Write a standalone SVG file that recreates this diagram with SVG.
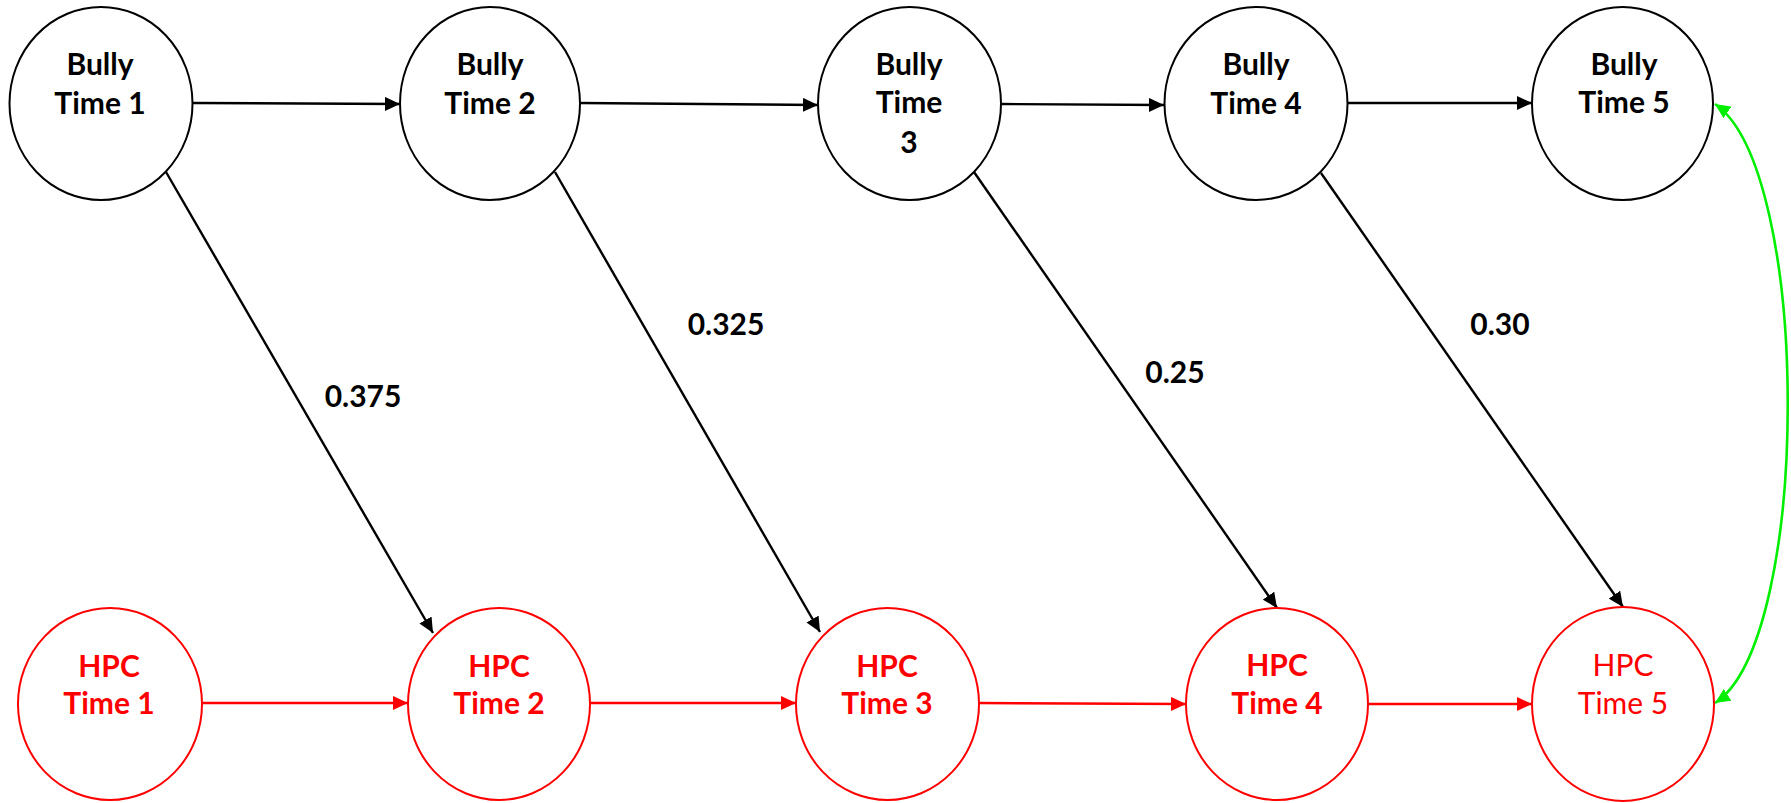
<svg xmlns="http://www.w3.org/2000/svg" width="1791" height="803" viewBox="0 0 1791 803">
<style>
.bn{fill:#fff;stroke:#000;stroke-width:2}
.hn{fill:#fff;stroke:#ff0000;stroke-width:2}
.bt{font-family:Lato,"Liberation Sans",sans-serif;font-weight:bold;font-size:30px;fill:#000;text-anchor:middle}
.ht{font-family:Lato,"Liberation Sans",sans-serif;font-weight:bold;font-size:30px;fill:#ff0000;text-anchor:middle}
.htr{font-family:Lato,"Liberation Sans",sans-serif;font-weight:normal;font-size:30px;fill:#ff0000;text-anchor:middle}
.lbl{font-family:Lato,"Liberation Sans",sans-serif;font-weight:bold;font-size:30px;fill:#000;text-anchor:middle}
.bk{stroke:#000;stroke-width:2.4;fill:none;marker-end:url(#ab)}
.rd{stroke:#ff0000;stroke-width:2.4;fill:none;marker-end:url(#ar)}
.gr{stroke:#00ee00;stroke-width:2.6;fill:none;marker-start:url(#ag);marker-end:url(#ag)}
</style>
<defs>
<marker id="ab" markerUnits="userSpaceOnUse" markerWidth="16" markerHeight="14" refX="15" refY="7" orient="auto"><path d="M0,0 L15,7 L0,14 z" fill="#000"/></marker>
<marker id="ar" markerUnits="userSpaceOnUse" markerWidth="16" markerHeight="14" refX="15" refY="7" orient="auto"><path d="M0,0 L15,7 L0,14 z" fill="#ff0000"/></marker>
<marker id="ag" markerUnits="userSpaceOnUse" markerWidth="16" markerHeight="14" refX="15" refY="7" orient="auto-start-reverse"><path d="M0,0 L15,7 L0,14 z" fill="#00ee00"/></marker>
</defs>
<rect width="1791" height="803" fill="#fff"/>
<g id="connectors">
<line class="bk" x1="193" y1="103" x2="400" y2="104"/>
<line class="bk" x1="580" y1="103" x2="818" y2="105"/>
<line class="bk" x1="1001" y1="104" x2="1164" y2="105"/>
<line class="bk" x1="1347" y1="103" x2="1532" y2="103"/>
<line class="bk" x1="166" y1="172" x2="433" y2="633"/>
<line class="bk" x1="555" y1="172" x2="820" y2="632"/>
<line class="bk" x1="974" y1="172" x2="1277" y2="608"/>
<line class="bk" x1="1321" y1="173" x2="1623" y2="607"/>
<line class="rd" x1="202" y1="703" x2="408" y2="703"/>
<line class="rd" x1="590" y1="703" x2="796" y2="703"/>
<line class="rd" x1="979" y1="703" x2="1186" y2="704"/>
<line class="rd" x1="1368" y1="704" x2="1532" y2="704"/>
<path class="gr" d="M1715,104 C1812,170 1812,640 1715,703"/>
<text class="lbl" x="363" y="407">0.375</text>
<text class="lbl" x="726" y="335">0.325</text>
<text class="lbl" x="1175" y="383">0.25</text>
<text class="lbl" x="1500" y="335">0.30</text>
</g>
<g id="bully1"><ellipse class="bn" cx="101" cy="103.5" rx="91.5" ry="96.5"/><text class="bt" x="100" y="75">Bully</text><text class="bt" x="100" y="114">Time 1</text></g>
<g id="bully2"><ellipse class="bn" cx="490" cy="103.5" rx="90" ry="96.5"/><text class="bt" x="490" y="75">Bully</text><text class="bt" x="490" y="114">Time 2</text></g>
<g id="bully3"><ellipse class="bn" cx="909.5" cy="103.5" rx="91.5" ry="96.5"/><text class="bt" x="909" y="75">Bully</text><text class="bt" x="909" y="113">Time</text><text class="bt" x="909" y="153">3</text></g>
<g id="bully4"><ellipse class="bn" cx="1256" cy="103.5" rx="91.5" ry="96.5"/><text class="bt" x="1256" y="75">Bully</text><text class="bt" x="1256" y="114">Time 4</text></g>
<g id="bully5"><ellipse class="bn" cx="1622.5" cy="103.5" rx="90.5" ry="96.5"/><text class="bt" x="1624" y="75">Bully</text><text class="bt" x="1624" y="113">Time 5</text></g>
<g id="hpc1"><ellipse class="hn" cx="110" cy="704" rx="92" ry="96"/><text class="ht" x="109" y="677">HPC</text><text class="ht" x="109" y="714">Time 1</text></g>
<g id="hpc2"><ellipse class="hn" cx="499" cy="704" rx="91" ry="96"/><text class="ht" x="499" y="677">HPC</text><text class="ht" x="499" y="714">Time 2</text></g>
<g id="hpc3"><ellipse class="hn" cx="887.5" cy="704" rx="91.5" ry="96"/><text class="ht" x="887" y="677">HPC</text><text class="ht" x="887" y="714">Time 3</text></g>
<g id="hpc4"><ellipse class="hn" cx="1277" cy="704" rx="91" ry="96"/><text class="ht" x="1277" y="676">HPC</text><text class="ht" x="1277" y="714">Time 4</text></g>
<g id="hpc5"><ellipse class="hn" cx="1623" cy="704" rx="91" ry="97"/><text class="htr" x="1623" y="676">HPC</text><text class="htr" x="1623" y="714">Time 5</text></g>
</svg>
